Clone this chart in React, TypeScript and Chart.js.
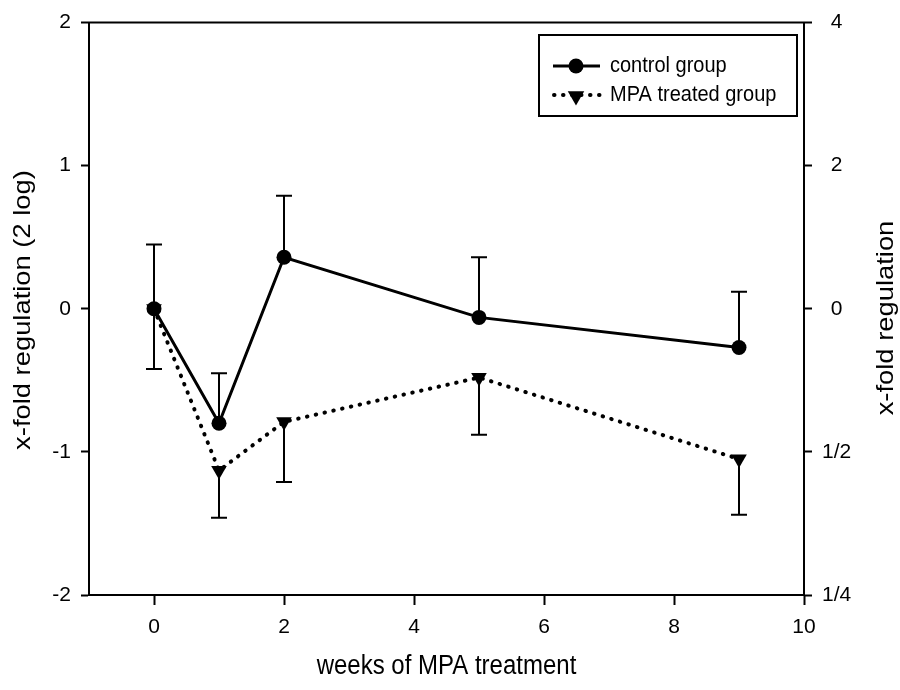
import React, { useEffect, useRef } from "react";
import { Chart, registerables } from "chart.js";

Chart.register(...registerables);

// ---- data ----
const weeks = [0, 1, 2, 5, 9];
const controlMean = [0.0, -0.8, 0.36, -0.06, -0.27];
const controlErr = [0.45, 0.35, 0.43, 0.42, 0.39];
const mpaMean = [0.0, -1.13, -0.79, -0.48, -1.05];
const mpaErr = [0.42, 0.33, 0.42, 0.4, 0.39];
const xTicks = [0, 2, 4, 6, 8, 10];
const leftTicks = [-2, -1, 0, 1, 2];
const rightTickLabels = ["1/4", "1/2", "0", "2", "4"];
const seriesNames = ["control group", "MPA treated group"];
const xTitle = "weeks of MPA treatment";
const yTitle = "x-fold regulation (2 log)";
const y2Title = "x-fold regulation";

const FONT = "'Liberation Sans', Arial, sans-serif";
const VSTRETCH = 1.14;

function drawTri(ctx: CanvasRenderingContext2D, cx: number, cy: number, r: number) {
  ctx.beginPath();
  for (let k = 0; k < 3; k++) {
    const a = Math.PI + (k * 2 * Math.PI) / 3;
    const px = cx + Math.sin(a) * r;
    const py = cy - Math.cos(a) * r;
    if (k === 0) ctx.moveTo(px, py);
    else ctx.lineTo(px, py);
  }
  ctx.closePath();
  ctx.fill();
}

const overlay = {
  id: "overlay",
  beforeDatasetsDraw(chart: any) {
    const { ctx, scales } = chart;
    const x = scales.x;
    const y = scales.y;
    ctx.save();
    ctx.strokeStyle = "#000";
    ctx.lineWidth = 2;
    const cap = 8;
    const bar = (xv: number, y0: number, y1: number) => {
      const px = x.getPixelForValue(xv);
      const p0 = y.getPixelForValue(y0);
      const p1 = y.getPixelForValue(y1);
      ctx.beginPath();
      ctx.moveTo(px, p0);
      ctx.lineTo(px, p1);
      ctx.moveTo(px - cap, p1);
      ctx.lineTo(px + cap, p1);
      ctx.stroke();
    };
    weeks.forEach((w, i) => {
      bar(w, controlMean[i], controlMean[i] + controlErr[i]);
      bar(w, mpaMean[i], mpaMean[i] - mpaErr[i]);
    });
    ctx.restore();
  },
  afterDraw(chart: any) {
    const { ctx, chartArea } = chart;
    ctx.save();
    // top frame line
    ctx.strokeStyle = "#000";
    ctx.lineWidth = 2;
    ctx.beginPath();
    ctx.moveTo(chartArea.left - 1, chartArea.top);
    ctx.lineTo(chartArea.right + 1, chartArea.top);
    ctx.stroke();

    // legend box
    const bx = 539, by = 35, bw = 258, bh = 81;
    ctx.lineWidth = 2;
    ctx.strokeRect(bx, by, bw, bh);
    const rows = [66, 95];
    // row 1: solid + circle
    ctx.lineWidth = 3;
    ctx.beginPath();
    ctx.moveTo(553, rows[0]);
    ctx.lineTo(600, rows[0]);
    ctx.stroke();
    ctx.fillStyle = "#000";
    ctx.beginPath();
    ctx.arc(576, rows[0], 7.5, 0, Math.PI * 2);
    ctx.fill();
    // row 2: dotted + triangle
    ctx.lineWidth = 4;
    ctx.lineCap = "round";
    ctx.setLineDash([0.5, 8.5]);
    ctx.beginPath();
    ctx.moveTo(554, rows[1]);
    ctx.lineTo(600, rows[1]);
    ctx.stroke();
    ctx.setLineDash([]);
    ctx.lineCap = "butt";
    drawTri(ctx, 576, rows[1] + 1, 9.5);

    // legend text
    ctx.fillStyle = "#000";
    ctx.font = `20px ${FONT}`;
    ctx.textAlign = "left";
    ctx.textBaseline = "middle";
    seriesNames.forEach((n, i) => {
      ctx.save();
      ctx.translate(610, rows[i]);
      ctx.scale(1, VSTRETCH);
      ctx.fillText(n, 0, 0);
      ctx.restore();
    });

    // axis titles
    ctx.font = `24px ${FONT}`;
    ctx.textAlign = "center";
    ctx.textBaseline = "middle";
    ctx.save();
    ctx.translate((chartArea.left + chartArea.right) / 2, 666);
    ctx.scale(1, VSTRETCH);
    ctx.fillText(xTitle, 0, 0);
    ctx.restore();

    ctx.save();
    ctx.translate(23, 310);
    ctx.rotate(-Math.PI / 2);
    ctx.scale(VSTRETCH, 1);
    ctx.fillText(yTitle, 0, 0);
    ctx.restore();

    ctx.save();
    ctx.translate(886, 318);
    ctx.rotate(-Math.PI / 2);
    ctx.scale(VSTRETCH, 1);
    ctx.fillText(y2Title, 0, 0);
    ctx.restore();

    ctx.restore();
  },
};

export default function App() {
  const ref = useRef<HTMLCanvasElement | null>(null);
  useEffect(() => {
    if (!ref.current) return;
    Chart.defaults.font.family = FONT;
    const tickFont = { family: FONT, size: 21 };
    const axisCommon = {
      border: { display: true, color: "#000", width: 2 },
    };
    const chart = new Chart(ref.current, {
      type: "line",
      data: {
        datasets: [
          {
            label: seriesNames[0],
            data: weeks.map((w, i) => ({ x: w, y: controlMean[i] })),
            borderColor: "#000",
            backgroundColor: "#000",
            borderWidth: 3,
            pointStyle: "circle",
            pointRadius: 7.5,
            pointBorderWidth: 0,
            pointBackgroundColor: "#000",
            tension: 0,
            yAxisID: "y",
          },
          {
            label: seriesNames[1],
            data: weeks.map((w, i) => ({ x: w, y: mpaMean[i] })),
            borderColor: "#000",
            backgroundColor: "#000",
            borderWidth: 4,
            borderDash: [0.5, 8.5],
            borderCapStyle: "round",
            pointStyle: "triangle",
            pointRotation: 180,
            pointRadius: 9,
            pointBorderWidth: 0,
            pointBackgroundColor: "#000",
            tension: 0,
            yAxisID: "y",
          },
        ],
      },
      options: {
        animation: false,
        responsive: false,
        maintainAspectRatio: false,
        layout: { padding: { top: 21, left: 0, right: 0, bottom: 0 } },
        plugins: { legend: { display: false }, tooltip: { enabled: false } },
        scales: {
          x: {
            type: "linear",
            min: -1,
            max: 10,
            afterBuildTicks: (s: any) => {
              s.ticks = xTicks.map((v) => ({ value: v }));
            },
            afterFit: (s: any) => {
              s.height = 95;
            },
            grid: { display: true, drawOnChartArea: false, tickLength: 10, tickWidth: 2, tickColor: "#000" },
            ...axisCommon,
            ticks: { font: tickFont, color: "#000", padding: 10, maxRotation: 0, autoSkip: false },
          },
          y: {
            type: "linear",
            position: "left",
            min: -2,
            max: 2,
            afterBuildTicks: (s: any) => {
              s.ticks = leftTicks.map((v) => ({ value: v }));
            },
            afterFit: (s: any) => {
              s.width = 89;
            },
            grid: { display: true, drawOnChartArea: false, tickLength: 8, tickWidth: 2, tickColor: "#000" },
            ...axisCommon,
            ticks: { font: tickFont, color: "#000", padding: 10 },
          },
          y2: {
            type: "linear",
            position: "right",
            min: -2,
            max: 2,
            afterBuildTicks: (s: any) => {
              s.ticks = leftTicks.map((v) => ({ value: v }));
            },
            afterFit: (s: any) => {
              s.width = 96;
            },
            grid: { display: true, drawOnChartArea: false, tickLength: 8, tickWidth: 2, tickColor: "#000" },
            ...axisCommon,
            ticks: {
              font: tickFont,
              color: "#000",
              padding: 10,
              crossAlign: "center",
              callback: (v: any) => {
                const idx = leftTicks.indexOf(Number(v));
                return idx >= 0 ? rightTickLabels[idx] : "";
              },
            },
          },
        },
      },
      plugins: [overlay],
    } as any);
    return () => chart.destroy();
  }, []);
  return (
    <div style={{ position: "absolute", left: 0, top: 0, width: 900, height: 690, background: "#fff" }}>
      <canvas ref={ref} width={900} height={690} style={{ display: "block" }} />
    </div>
  );
}
